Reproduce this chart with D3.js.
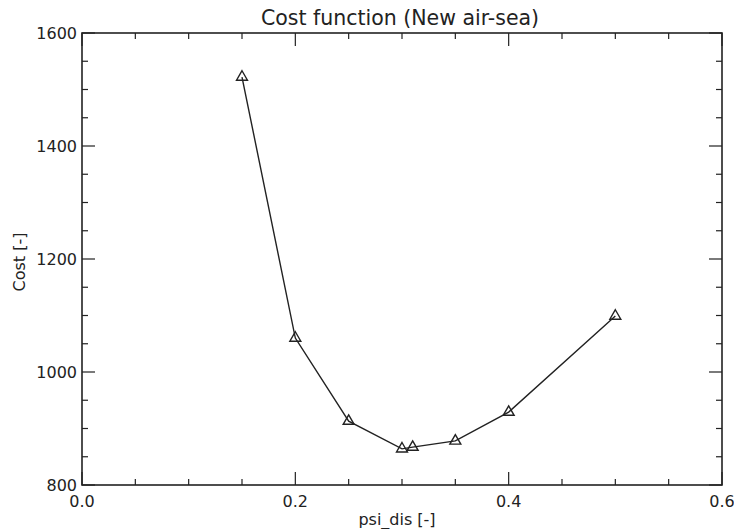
<!DOCTYPE html>
<html>
<head>
<meta charset="utf-8">
<script src="https://cdn.jsdelivr.net/npm/d3@7"></script>
<style>
  body { margin: 0; background: #fff; }
  svg { display: block; }
  text { font-family: "DejaVu Sans", "Liberation Sans", sans-serif; fill: #222; }
</style>
</head>
<body>
<svg id="chart" width="734" height="529"></svg>
<script>
const psiDis = [0.15, 0.20, 0.25, 0.30, 0.31, 0.35, 0.40, 0.50];
const cost = [1522, 1060, 913, 864, 867, 878, 929, 1099];
const xTicks = [0.0, 0.2, 0.4, 0.6];
const xTickLabels = ["0.0", "0.2", "0.4", "0.6"];
const yTicks = [800, 1000, 1200, 1400, 1600];
const yTickLabels = ["800", "1000", "1200", "1400", "1600"];
const titleText = "Cost function (New air-sea)";
const xLabel = "psi_dis [-]";
const yLabel = "Cost [-]";

const svg = d3.select("#chart");
const m = { left: 82, right: 12, top: 33, bottom: 44 };
const W = 734, H = 529;
const x = d3.scaleLinear().domain([0, 0.6]).range([m.left, W - m.right]);
const y = d3.scaleLinear().domain([800, 1600]).range([H - m.bottom, m.top]);

const ink = "#222";
const g = svg.append("g");

const xMinor = d3.range(0, 0.6001, 0.05);
const yMinor = d3.range(800, 1600.1, 50);
const majLen = 13, minLen = 6;

function isMajorX(v) { return xTicks.some(t => Math.abs(t - v) < 1e-6); }
function isMajorY(v) { return yTicks.some(t => Math.abs(t - v) < 1e-6); }

xMinor.forEach(v => {
  const L = isMajorX(v) ? majLen : minLen;
  g.append("line").attr("x1", x(v)).attr("x2", x(v))
    .attr("y1", y(800)).attr("y2", y(800) - L).attr("stroke", ink).attr("stroke-width", 1.2);
  g.append("line").attr("x1", x(v)).attr("x2", x(v))
    .attr("y1", y(1600)).attr("y2", y(1600) + L).attr("stroke", ink).attr("stroke-width", 1.2);
});
yMinor.forEach(v => {
  const L = isMajorY(v) ? majLen : minLen;
  g.append("line").attr("x1", x(0)).attr("x2", x(0) + L)
    .attr("y1", y(v)).attr("y2", y(v)).attr("stroke", ink).attr("stroke-width", 1.2);
  g.append("line").attr("x1", x(0.6)).attr("x2", x(0.6) - L)
    .attr("y1", y(v)).attr("y2", y(v)).attr("stroke", ink).attr("stroke-width", 1.2);
});

g.append("rect").attr("x", x(0)).attr("y", y(1600))
  .attr("width", x(0.6) - x(0)).attr("height", y(800) - y(1600))
  .attr("fill", "none").attr("stroke", ink).attr("stroke-width", 1.6);

xTicks.forEach((t, i) => {
  g.append("text").attr("x", x(t)).attr("y", y(800) + 22)
    .attr("text-anchor", "middle").attr("font-size", 16).text(xTickLabels[i]);
});
yTicks.forEach((t, i) => {
  g.append("text").attr("x", x(0) - 5).attr("y", y(t) + 6)
    .attr("text-anchor", "end").attr("font-size", 16).text(yTickLabels[i]);
});

svg.append("text").attr("x", (x(0) + x(0.6)) / 2 - 2).attr("y", 25)
  .attr("text-anchor", "middle").attr("font-size", 20.5).text(titleText);
svg.append("text").attr("x", (x(0) + x(0.6)) / 2 - 5).attr("y", 525)
  .attr("text-anchor", "middle").attr("font-size", 16).text(xLabel);
svg.append("text").attr("transform", `translate(25,${(y(800) + y(1600)) / 2 + 3}) rotate(-90)`)
  .attr("text-anchor", "middle").attr("font-size", 16).text(yLabel);

const line = d3.line().x((d, i) => x(psiDis[i])).y(d => y(d));
g.append("path").datum(cost).attr("d", line)
  .attr("fill", "none").attr("stroke", ink).attr("stroke-width", 1.4);

const tri = d3.symbol().type(d3.symbolTriangle).size(52);
g.selectAll(".mk").data(cost).enter().append("path")
  .attr("transform", (d, i) => `translate(${x(psiDis[i])},${y(d)})`)
  .attr("d", tri).attr("fill", "none")
  .attr("stroke", ink).attr("stroke-width", 1.4);
</script>
</body>
</html>
